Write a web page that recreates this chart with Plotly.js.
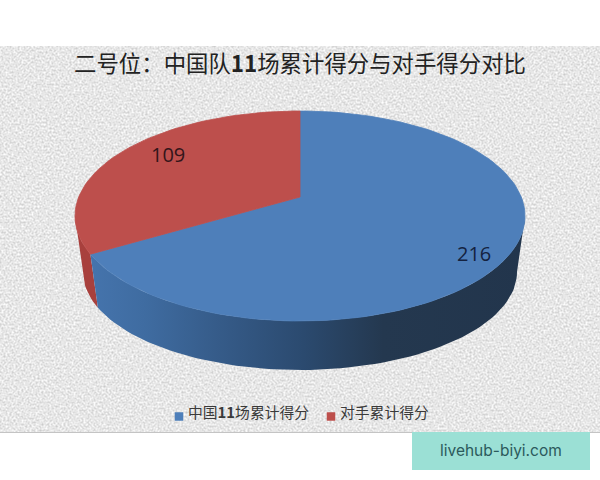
<!DOCTYPE html>
<html>
<head>
<meta charset="utf-8">
<script src="https://cdn.plot.ly/plotly-3.0.1.min.js"></script>
<style>
html,body{margin:0;padding:0;background:#fff;width:600px;height:480px;overflow:hidden}
#bg{position:absolute;left:0;top:46px;width:600px;height:386px;border-bottom:1px solid #c4c4c4}
#chart{position:absolute;left:0;top:0;width:600px;height:480px}
</style>
</head>
<body>
<svg id="bg" xmlns="http://www.w3.org/2000/svg" width="600" height="386">
  <filter id="paper" x="0" y="0" width="100%" height="100%" color-interpolation-filters="sRGB">
    <feTurbulence type="fractalNoise" baseFrequency="0.5" numOctaves="4" seed="7"/>
    <feColorMatrix type="matrix" values="0.32 0 0 0 0.745  0.32 0 0 0 0.745  0.32 0 0 0 0.745  0 0 0 0 1"/>
  </filter>
  <rect width="600" height="386" filter="url(#paper)"/>
</svg>
<div id="chart"></div>
<script>
// Data
const categories = ['中国<b>11</b>场累计得分', '对手累计得分'];
const values = [216, 109];
const sliceColors = ['#4e7fba', '#bd4f4c'];
const titleText = '二号位：中国队<b>11</b>场累计得分与对手得分对比';
const watermark = 'livehub-biyi.com';

// Projection of the tilted disc on the page
const cx = 300, topCy = 216, topA = 225, topB = 105;
const baseCy = 272, baseA = 217, baseB = 98;
const c = 0.181;
const DEG = Math.PI / 180;

function project(angleDeg, r) {
  const u = r * Math.sin(angleDeg * DEG), v = r * Math.cos(angleDeg * DEG);
  const d = 1 + c * v;
  return [u * Math.sqrt(1 - c * c) / d, (v + c) / d];
}
function toTop(p) { return [cx + topA * p[0], topCy - topB * p[1]]; }
function sector(a0, a1) {
  const apex = toTop(project(0, 0));
  const xs = [apex[0]], ys = [apex[1]];
  const n = Math.ceil(Math.abs(a1 - a0) / 2);
  for (let i = 0; i <= n; i++) {
    const q = toTop(project(a0 + (a1 - a0) * i / n, 1));
    xs.push(q[0]); ys.push(q[1]);
  }
  xs.push(apex[0]); ys.push(apex[1]);
  return {x: xs, y: ys};
}
function wall(phi0, phi1) {
  const xs = [], ys = [];
  const n = Math.ceil(Math.abs(phi1 - phi0) / 2);
  for (let i = 0; i <= n; i++) {
    const f = (phi0 + (phi1 - phi0) * i / n) * DEG;
    xs.push(cx + topA * Math.cos(f)); ys.push(topCy - topB * Math.sin(f));
  }
  for (let i = n; i >= 0; i--) {
    const f = (phi0 + (phi1 - phi0) * i / n) * DEG;
    xs.push(cx + baseA * Math.cos(f)); ys.push(baseCy - baseB * Math.sin(f));
  }
  xs.push(xs[0]); ys.push(ys[0]);
  return {x: xs, y: ys};
}

const total = values[0] + values[1];
const splitAngle = values[0] / total * 360;
const splitP = project(splitAngle, 1);
const splitPhi = Math.atan2(splitP[1], splitP[0]) / DEG;

const blueTop = sector(0, splitAngle);
const redTop = sector(splitAngle, 360);
const blueWall = wall(0, splitPhi);
const redWall = wall(splitPhi, -180);

const base = {mode: 'lines', fill: 'toself', hoverinfo: 'skip', showlegend: false};
const legendFont = {family: '"Noto Sans CJK SC"', size: 14.8, color: '#3a3a3a'};
const traces = [
  Object.assign({}, base, redWall, {line: {width: 0, color: '#a8403d'},
    fillcolor: '#a8403d'}),
  Object.assign({}, base, blueWall, {line: {width: 0, color: '#2a4460'},
    fillgradient: {type: 'horizontal', start: 82, stop: 525,
      colorscale: [[0, '#4675ae'], [0.14, '#3f6ca1'], [0.3, '#365c8a'], [0.5, '#2b4a6f'], [0.68, '#24384f'], [1, '#22354c']]}}),
  Object.assign({}, base, blueTop, {line: {width: 0.8, color: '#4e7fba'}, fillcolor: sliceColors[0]}),
  Object.assign({}, base, redTop, {line: {width: 0.8, color: '#bd4f4c'}, fillcolor: sliceColors[1]}),
  {x: [179, 331], y: [416.5, 416.5], mode: 'markers', hoverinfo: 'skip', showlegend: false,
    marker: {symbol: 'square', size: 8.5, color: sliceColors}},
  {x: [188, 340], y: [414, 414], mode: 'text', text: categories, textposition: 'middle right',
    hoverinfo: 'skip', showlegend: false, textfont: legendFont}
];

const layout = {
  width: 600, height: 480,
  margin: {l: 0, r: 0, t: 0, b: 0},
  paper_bgcolor: 'rgba(0,0,0,0)',
  plot_bgcolor: 'rgba(0,0,0,0)',
  hovermode: false,
  showlegend: false,
  title: {text: titleText, x: 0.5, xanchor: 'center', xref: 'paper',
    y: 1 - 64 / 480, yanchor: 'middle', yref: 'container',
    font: {family: '"Noto Sans CJK SC"', size: 22.4, color: '#222'}},
  xaxis: {visible: false, range: [0, 600], fixedrange: true},
  yaxis: {visible: false, range: [480, 0], fixedrange: true},
  shapes: [{type: 'rect', xref: 'x', yref: 'y', x0: 412, x1: 590, y0: 432, y1: 470,
    fillcolor: '#9be0d5', line: {width: 0}, layer: 'below'}],
  annotations: [
    {x: 474, y: 253, xref: 'x', yref: 'y', text: String(values[0]), showarrow: false,
      font: {family: 'Open Sans', size: 20, color: '#14223f'}},
    {x: 168, y: 154, xref: 'x', yref: 'y', text: String(values[1]), showarrow: false,
      font: {family: 'Open Sans', size: 20, color: '#33151a'}},
    {x: 501, y: 450, xref: 'x', yref: 'y', text: watermark, showarrow: false,
      font: {family: 'Inter', size: 15.5, color: '#2c5a5c'}}
  ]
};

Plotly.newPlot('chart', traces, layout, {displayModeBar: false, staticPlot: true});
</script>
</body>
</html>
